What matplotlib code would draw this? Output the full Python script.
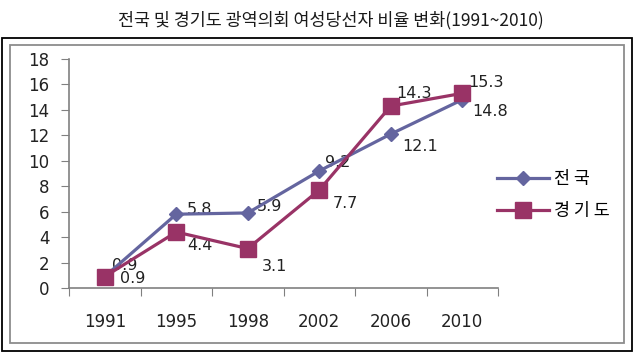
import matplotlib
matplotlib.use("Agg")
import matplotlib.pyplot as plt
from matplotlib.patches import Rectangle
import numpy as np

plt.rcParams['font.family'] = ['DejaVu Sans', 'Noto Sans CJK KR']

# ==============================
# data
# ==============================
years = ["1991", "1995", "1998", "2002", "2006", "2010"]
nat = [0.9, 5.8, 5.9, 9.2, 12.1, 14.8]      # 전국
gg = [0.9, 4.4, 3.1, 7.7, 14.3, 15.3]       # 경기도
series_names = ["전 국", "경 기 도"]
title = "전국 및 경기도 광역의회 여성당선자 비율 변화(1991~2010)"

# label offsets in pixels (dx, dy downward)
nat_off = [(7, -11.5), (10, -5), (9, -6), (6, -8), (11, 12), (10, 12)]
gg_off = [(15, 1.5), (11, 13), (14, 18), (13, 13), (6, -13), (6, -11)]

c_nat = "#64659F"
c_gg = "#993366"

W, H = 636, 353
fig = plt.figure(figsize=(W / 100, H / 100), dpi=100)

# frames
fig.patches.append(Rectangle((2 / W, (H - 351) / H), 630 / W, 313 / H, transform=fig.transFigure,
                             fill=False, edgecolor="black", linewidth=1.3))
fig.patches.append(Rectangle((10 / W, (H - 343) / H), 614 / W, 298 / H, transform=fig.transFigure,
                             fill=False, edgecolor="#8c8c8c", linewidth=1.3))

fig.text(331 / W, (H - 20) / H, title, ha="center", va="center", fontsize=12.5,
         family=["Noto Sans CJK KR", "DejaVu Sans"], color="#1a1a1a")

ax = fig.add_axes([69 / W, (H - 288) / H, 429 / W, 229 / H])
x = np.arange(len(years))

ax.plot(x, nat, color=c_nat, linewidth=2.3, marker="D", markersize=7.5, zorder=3, label=series_names[0])
ax.plot(x, gg, color=c_gg, linewidth=2.3, marker="s", markersize=12, zorder=4, label=series_names[1])

for xi, v, (dx, dy) in zip(x, nat, nat_off):
    ax.annotate(f"{v}", (xi, v), xytext=(dx * 0.72, -dy * 0.72), textcoords="offset points",
                ha="left", va="center", fontsize=11.5, color="#222222", zorder=1)
for xi, v, (dx, dy) in zip(x, gg, gg_off):
    ax.annotate(f"{v}", (xi, v), xytext=(dx * 0.72, -dy * 0.72), textcoords="offset points",
                ha="left", va="center", fontsize=11.5, color="#222222", zorder=1)

ax.set_xlim(-0.5, len(years) - 0.5)
ax.set_ylim(0, 18)
ax.set_yticks(np.arange(0, 19, 2))
ax.tick_params(axis="y", length=6, color="#808080", pad=8, labelsize=12, labelcolor="#222222")

ax.set_xticks(np.arange(len(years) + 1) - 0.5)
ax.set_xticklabels([])
ax.set_xticks(x, minor=True)
ax.set_xticklabels(years, minor=True)
ax.tick_params(axis="x", which="major", length=6, color="#808080")
ax.tick_params(axis="x", which="minor", length=0, pad=18, labelsize=12, labelcolor="#222222")

for s in ["top", "right"]:
    ax.spines[s].set_visible(False)
for s in ["left", "bottom"]:
    ax.spines[s].set_color("#808080")
    ax.spines[s].set_linewidth(1.2)
ax.patch.set_visible(False)

ax.legend(loc="center left", bbox_to_anchor=(488 / W, (H - 195) / H),
          bbox_transform=fig.transFigure, frameon=False,
          handlelength=3.0, handletextpad=0.3, labelspacing=0.85, borderpad=0,
          prop={"family": ["Noto Sans CJK KR"], "size": 12.5})

fig.savefig("out.png", dpi=100)
